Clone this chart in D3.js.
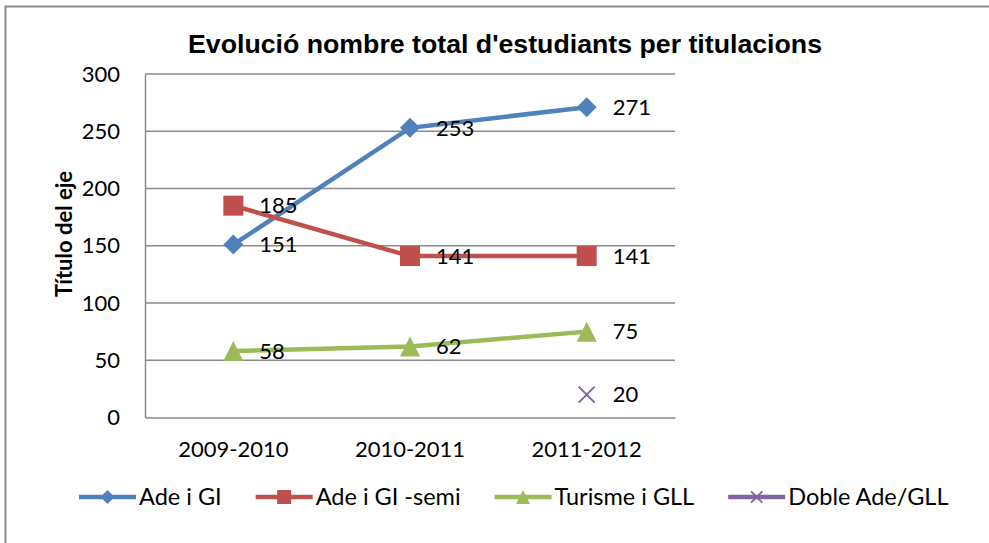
<!DOCTYPE html>
<html>
<head>
<meta charset="utf-8">
<script src="https://cdn.jsdelivr.net/npm/d3@7"></script>
<style>
  body { margin: 0; background: #fff; }
  text { font-family: Lato, "Open Sans", sans-serif; fill: #000; }
</style>
</head>
<body>
<svg id="chart" width="989" height="543"></svg>
<script>
// dades llegides del gràfic
const categories = ["2009-2010", "2010-2011", "2011-2012"];
const seriesNames = ["Ade i GI", "Ade i GI -semi", "Turisme i GLL", "Doble Ade/GLL"];
const adeGI = [151, 253, 271];
const adeGISemi = [185, 141, 141];
const turismeGLL = [58, 62, 75];
const dobleAdeGLL = [null, null, 20];
const yTicks = [0, 50, 100, 150, 200, 250, 300];

const colors = ["#4F81BD", "#C0504D", "#9BBB59", "#8064A2"];
const markerTypes = ["diamond", "square", "triangle", "cross"];

const series = [adeGI, adeGISemi, turismeGLL, dobleAdeGLL].map((vals, i) => ({
  name: seriesNames[i],
  color: colors[i],
  values: vals.map((v, j) => ({ cat: categories[j], value: v }))
}));

const svg = d3.select("#chart");

// marc exterior
svg.append("rect")
  .attr("x", 5.5).attr("y", 6.5)
  .attr("width", 1000).attr("height", 600)
  .attr("fill", "none")
  .attr("stroke", "#8c8c8c")
  .attr("stroke-width", 2);

const plotLeft = 145, plotRight = 675, plotTop = 74, plotBottom = 417.5;

const x = d3.scaleBand().domain(categories).range([plotLeft, plotRight]);
const y = d3.scaleLinear().domain([0, 300]).range([plotBottom, plotTop]);

// graella
svg.append("g")
  .selectAll("line")
  .data(yTicks.filter(d => d > 0))
  .enter()
  .append("line")
  .attr("x1", plotLeft).attr("x2", plotRight)
  .attr("y1", d => y(d)).attr("y2", d => y(d))
  .attr("stroke", "#8a8a8a")
  .attr("stroke-width", 1.5);

// eixos
const yAxis = d3.axisLeft(y).tickValues(yTicks).tickSize(0).tickPadding(25);
svg.append("g")
  .attr("transform", `translate(${plotLeft},0)`)
  .call(yAxis)
  .call(g => g.select(".domain").attr("stroke", "#8a8a8a").attr("stroke-width", 1.5))
  .attr("font-family", null)
  .selectAll("text")
  .style("font-size", "22px");

const xAxis = d3.axisBottom(x).tickSize(0).tickPadding(24);
svg.append("g")
  .attr("transform", `translate(0,${plotBottom})`)
  .call(xAxis)
  .call(g => g.select(".domain").attr("stroke", "#8a8a8a").attr("stroke-width", 1.5))
  .attr("font-family", null)
  .selectAll("text")
  .style("font-size", "22px");

// títol
svg.append("text")
  .attr("x", 505).attr("y", 53)
  .attr("text-anchor", "middle")
  .attr("textLength", 634)
  .attr("lengthAdjust", "spacingAndGlyphs")
  .style("font-family", "'Liberation Sans', Arial, sans-serif")
  .style("font-weight", "bold")
  .style("font-size", "26px")
  .text("Evolució nombre total d'estudiants per titulacions");

// títol de l'eix
svg.append("text")
  .attr("transform", `translate(72,234) rotate(-90)`)
  .attr("text-anchor", "middle")
  .style("font-weight", "bold")
  .style("font-size", "22px")
  .text("Título del eje");

const cx = d => x(d.cat) + x.bandwidth() / 2;
const line = d3.line()
  .defined(d => d.value !== null)
  .x(cx)
  .y(d => y(d.value));

// marcadors a l'estil Excel (r = mitja amplada)
const drawMarker = (g, i, px, py, r) => {
  const type = markerTypes[i];
  let d;
  if (type === "diamond") d = `M0,${-r}L${r},0L0,${r}L${-r},0Z`;
  else if (type === "square") d = `M${-r},${-r}H${r}V${r}H${-r}Z`;
  else if (type === "triangle") d = `M0,${-r}L${r},${r}H${-r}Z`;
  else d = `M${-r * 0.8},${-r * 0.8}L${r * 0.8},${r * 0.8}M${-r * 0.8},${r * 0.8}L${r * 0.8},${-r * 0.8}`;
  const p = g.append("path")
    .attr("d", d)
    .attr("transform", `translate(${px},${py})`);
  if (type === "cross") p.attr("fill", "none").attr("stroke", colors[i]).attr("stroke-width", 2);
  else p.attr("fill", colors[i]);
};

series.forEach((s, i) => {
  const g = svg.append("g");
  g.append("path")
    .datum(s.values)
    .attr("d", line)
    .attr("fill", "none")
    .attr("stroke", s.color)
    .attr("stroke-width", 4.5);

  s.values.filter(d => d.value !== null).forEach(d => {
    drawMarker(g, i, cx(d), y(d.value), 10);
  });

  g.selectAll(".lbl")
    .data(s.values.filter(d => d.value !== null))
    .enter()
    .append("text")
    .attr("x", d => cx(d) + 26)
    .attr("y", d => y(d.value))
    .attr("dy", "0.35em")
    .style("font-size", "22px")
    .text(d => d.value);
});

// llegenda
const legend = svg.append("g").attr("transform", "translate(79,497)");
let lx = 0;
series.forEach((s, i) => {
  const item = legend.append("g").attr("transform", `translate(${lx},0)`);
  item.append("line")
    .attr("x1", 0).attr("x2", 57)
    .attr("stroke", s.color)
    .attr("stroke-width", 4.5);
  drawMarker(item, i, 28.5, 0, 7);
  const t = item.append("text")
    .attr("x", 60)
    .attr("dy", "0.35em")
    .style("font-size", "23.5px")
    .text(s.name);
  lx += 60 + t.node().getComputedTextLength() + 34;
});
</script>
</body>
</html>
